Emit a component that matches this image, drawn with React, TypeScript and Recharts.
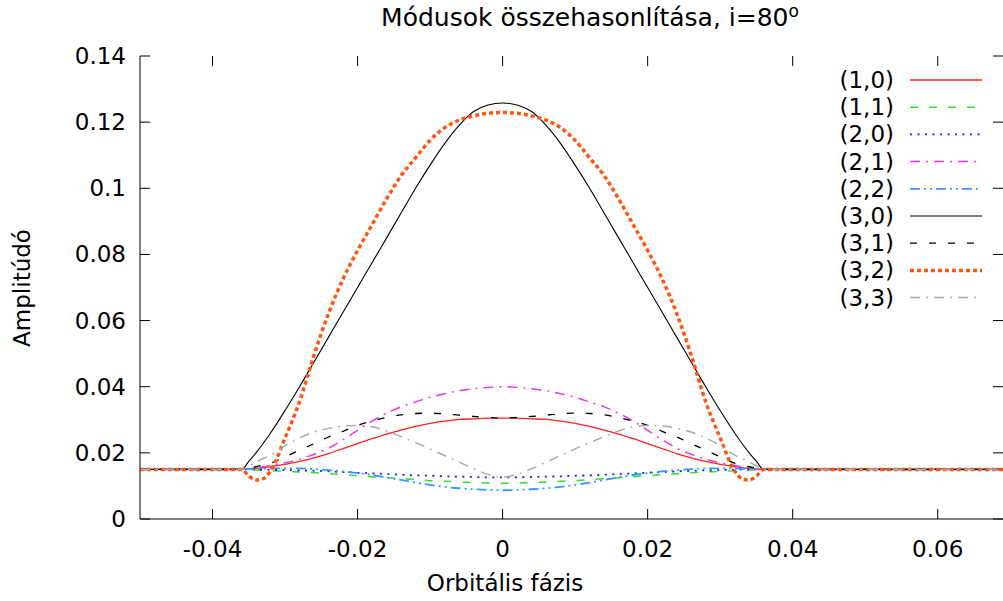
import React from 'react';
import { LineChart, Line, XAxis, YAxis } from 'recharts';

// orbital phase samples
const phase = [
  -0.05, -0.036, -0.035, -0.034, -0.033, -0.032, -0.03, -0.028, -0.026, -0.024, -0.022,
  -0.02, -0.018, -0.016, -0.014, -0.012, -0.01, -0.008, -0.006, -0.004, -0.002,
  0,
  0.002, 0.004, 0.006, 0.008, 0.01, 0.012, 0.014, 0.016, 0.018, 0.02,
  0.022, 0.024, 0.026, 0.028, 0.03, 0.032, 0.033, 0.034, 0.035, 0.036, 0.069,
];

const mode10 = [
  0.015, 0.015, 0.0151, 0.0153, 0.0155, 0.0158, 0.0165, 0.0174, 0.0185, 0.0198, 0.0213,
  0.0228, 0.0243, 0.0257, 0.0269, 0.028, 0.0289, 0.0296, 0.0301, 0.0303, 0.0305,
  0.0305,
  0.0305, 0.0303, 0.0301, 0.0296, 0.0289, 0.028, 0.0269, 0.0257, 0.0243, 0.0228,
  0.0213, 0.0198, 0.0185, 0.0174, 0.0165, 0.0158, 0.0155, 0.0153, 0.0151, 0.015, 0.015,
];

const mode11 = [
  0.015, 0.015, 0.0149, 0.0148, 0.0147, 0.0146, 0.0144, 0.0142, 0.014, 0.0137, 0.0134,
  0.0131, 0.0128, 0.0125, 0.0122, 0.0119, 0.0116, 0.0114, 0.0112, 0.011, 0.0109,
  0.0108,
  0.0109, 0.011, 0.0112, 0.0114, 0.0116, 0.0119, 0.0122, 0.0125, 0.0128, 0.0131,
  0.0134, 0.0137, 0.014, 0.0142, 0.0144, 0.0146, 0.0147, 0.0148, 0.0149, 0.015, 0.015,
];

const mode20 = [
  0.015, 0.015, 0.015, 0.0149, 0.0149, 0.0149, 0.0148, 0.0147, 0.0146, 0.0144, 0.0142,
  0.014, 0.0138, 0.0136, 0.0134, 0.0132, 0.0131, 0.0129, 0.0128, 0.0127, 0.0126,
  0.0126,
  0.0126, 0.0127, 0.0128, 0.0129, 0.0131, 0.0132, 0.0134, 0.0136, 0.0138, 0.014,
  0.0142, 0.0144, 0.0146, 0.0147, 0.0148, 0.0149, 0.0149, 0.0149, 0.015, 0.015, 0.015,
];

const mode21 = [
  0.015, 0.015, 0.0152, 0.0155, 0.0158, 0.0162, 0.017, 0.0181, 0.0196, 0.0214, 0.024,
  0.0268, 0.0296, 0.032, 0.0339, 0.0354, 0.0368, 0.0379, 0.0388, 0.0394, 0.0398,
  0.04,
  0.0398, 0.0394, 0.0388, 0.0379, 0.0368, 0.0354, 0.0339, 0.032, 0.0296, 0.0268,
  0.024, 0.0214, 0.0196, 0.0181, 0.017, 0.0162, 0.0158, 0.0155, 0.0152, 0.015, 0.015,
];

const mode22 = [
  0.015, 0.015, 0.0151, 0.0152, 0.0152, 0.0153, 0.0153, 0.0153, 0.0151, 0.0148, 0.0144,
  0.0139, 0.0133, 0.0126, 0.0118, 0.011, 0.0103, 0.0097, 0.0093, 0.009, 0.0088,
  0.0087,
  0.0088, 0.009, 0.0093, 0.0097, 0.0103, 0.011, 0.0118, 0.0126, 0.0133, 0.0139,
  0.0144, 0.0148, 0.0151, 0.0153, 0.0153, 0.0153, 0.0152, 0.0152, 0.0151, 0.015, 0.015,
];

const mode30 = [
  0.015, 0.015, 0.0174, 0.02, 0.0229, 0.026, 0.0328, 0.04, 0.0475, 0.055, 0.0625,
  0.07, 0.0775, 0.085, 0.0925, 0.1, 0.107, 0.1135, 0.119, 0.1232, 0.1252,
  0.1258,
  0.1252, 0.1232, 0.119, 0.1135, 0.107, 0.1, 0.0925, 0.085, 0.0775, 0.07,
  0.0625, 0.055, 0.0475, 0.04, 0.0328, 0.026, 0.0229, 0.02, 0.0174, 0.015, 0.015,
];

const mode31 = [
  0.015, 0.015, 0.0154, 0.0158, 0.0163, 0.0169, 0.0188, 0.0208, 0.0228, 0.0248, 0.0265,
  0.0283, 0.0296, 0.0307, 0.0315, 0.0319, 0.032, 0.0318, 0.0314, 0.031, 0.0307,
  0.0305,
  0.0307, 0.031, 0.0314, 0.0318, 0.032, 0.0319, 0.0315, 0.0307, 0.0296, 0.0283,
  0.0265, 0.0248, 0.0228, 0.0208, 0.0188, 0.0169, 0.0163, 0.0158, 0.0154, 0.015, 0.015,
];

const mode32 = [
  0.015, 0.015, 0.013, 0.0118, 0.0122, 0.0145, 0.0245, 0.0355, 0.0496, 0.0622, 0.0726,
  0.0812, 0.089, 0.0968, 0.1038, 0.1092, 0.1145, 0.1183, 0.1206, 0.1219, 0.1227,
  0.1229,
  0.1227, 0.1219, 0.1206, 0.1183, 0.1145, 0.1092, 0.1038, 0.0968, 0.089, 0.0812,
  0.0726, 0.0622, 0.0496, 0.0355, 0.0245, 0.0145, 0.0122, 0.0118, 0.013, 0.015, 0.015,
];

const mode33 = [
  0.015, 0.015, 0.0161, 0.0172, 0.0183, 0.0193, 0.0222, 0.0245, 0.0263, 0.0274, 0.0281,
  0.0283, 0.0279, 0.0266, 0.0249, 0.0231, 0.0212, 0.0192, 0.0172, 0.0152, 0.0135,
  0.0127,
  0.0135, 0.0152, 0.0172, 0.0192, 0.0212, 0.0231, 0.0249, 0.0266, 0.0279, 0.0283,
  0.0281, 0.0274, 0.0263, 0.0245, 0.0222, 0.0193, 0.0183, 0.0172, 0.0161, 0.015, 0.015,
];

const modeLabels = ['(1,0)', '(1,1)', '(2,0)', '(2,1)', '(2,2)', '(3,0)', '(3,1)', '(3,2)', '(3,3)'];
const xTicks = [-0.04, -0.02, 0, 0.02, 0.04, 0.06];
const yTicks = [0, 0.02, 0.04, 0.06, 0.08, 0.1, 0.12, 0.14];

const modeValues = [mode10, mode11, mode20, mode21, mode22, mode30, mode31, mode32, mode33];
const data = phase.map((x, i) => {
  const row: Record<string, number> = { x };
  modeValues.forEach((vals, k) => {
    row['m' + k] = vals[i];
  });
  return row;
});

const styles = [
  { color: '#ff2020', width: 1.3, dash: undefined },
  { color: '#33dd33', width: 1.5, dash: '8 11' },
  { color: '#1a1aff', width: 1.8, dash: '2 5.5' },
  { color: '#ee33ee', width: 1.5, dash: '10 6 2 6' },
  { color: '#3399ff', width: 1.8, dash: '10 4 2 4 2 4' },
  { color: '#000000', width: 1.1, dash: undefined },
  { color: '#000000', width: 1.3, dash: '7 12' },
  { color: '#ff5511', width: 3.5, dash: '4 3' },
  { color: '#aaaaaa', width: 1.5, dash: '10 6 2 6' },
];

const W = 1003;
const H = 601;
const LEFT = 140;
const TOP = 56;
const BOTTOM = 519;
const RIGHT = 1003;
const TICK = 10;
const FONT = 'DejaVu Sans';
const FS = 23;

const fmt = (v: number) => (v === 0 ? '0' : String(v));

const XTick = (props: any) => {
  const { x, payload } = props;
  return (
    <g>
      <line x1={x} x2={x} y1={BOTTOM} y2={BOTTOM - TICK} stroke="#000" />
      <line x1={x} x2={x} y1={TOP} y2={TOP + TICK} stroke="#000" />
      <text x={x} y={557} textAnchor="middle" fontFamily={FONT} fontSize={FS} fill="#000">
        {fmt(payload.value)}
      </text>
    </g>
  );
};

const YTick = (props: any) => {
  const { y, payload } = props;
  return (
    <g>
      <line x1={LEFT} x2={LEFT + TICK} y1={y} y2={y} stroke="#000" />
      <line x1={RIGHT - TICK} x2={RIGHT} y1={y} y2={y} stroke="#000" />
      <text x={126} y={y + 8} textAnchor="end" fontFamily={FONT} fontSize={FS} fill="#000">
        {fmt(payload.value)}
      </text>
    </g>
  );
};

export default function App() {
  return (
    <div style={{ position: 'absolute', left: 0, top: 0, width: W, height: H, background: '#fff' }}>
      <LineChart
        width={W}
        height={H}
        data={data}
        margin={{ top: TOP, right: W - RIGHT, bottom: 0, left: 0 }}
      >
        <XAxis
          type="number"
          dataKey="x"
          domain={[-0.05, 0.069]}
          ticks={xTicks}
          allowDataOverflow
          height={H - BOTTOM}
          tickLine={false}
          tickSize={0}
          axisLine={{ stroke: '#000' }}
          tick={<XTick />}
          interval={0}
        />
        <YAxis
          type="number"
          domain={[0, 0.14]}
          ticks={yTicks}
          width={LEFT}
          tickLine={false}
          tickSize={0}
          axisLine={{ stroke: '#000' }}
          tick={<YTick />}
          interval={0}
        />
        {styles.map((s, k) => (
          <Line
            key={k}
            dataKey={'m' + k}
            type="monotone"
            stroke={s.color}
            strokeWidth={s.width}
            strokeDasharray={s.dash}
            dot={false}
            activeDot={false}
            isAnimationActive={false}
          />
        ))}
      </LineChart>
      <svg
        width={W}
        height={H}
        style={{ position: 'absolute', left: 0, top: 0, pointerEvents: 'none' }}
        fontFamily={FONT}
        fontSize={FS}
      >
        <text x={590} y={26} textAnchor="middle" fill="#000" fontSize={25}>
          Módusok összehasonlítása, i=80
          <tspan fontSize={17} dy={-9}>o</tspan>
        </text>
        <text x={505} y={591} textAnchor="middle" fill="#000">
          Orbitális fázis
        </text>
        <text x={0} y={0} transform="translate(30,288) rotate(-90)" textAnchor="middle" fill="#000">
          Amplitúdó
        </text>
        {modeLabels.map((label, k) => {
          const cy = 80 + k * 27.2;
          const s = styles[k];
          return (
            <g key={label}>
              <text x={894} y={cy + 8} textAnchor="end" fill="#000">
                {label}
              </text>
              <line
                x1={910}
                x2={982}
                y1={cy}
                y2={cy}
                stroke={s.color}
                strokeWidth={s.width}
                strokeDasharray={s.dash}
              />
            </g>
          );
        })}
      </svg>
    </div>
  );
}
